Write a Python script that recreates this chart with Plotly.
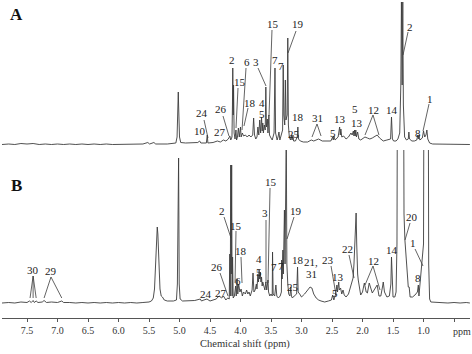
import plotly.graph_objects as go

# ---------------- data (ppm, intensity) ----------------
spec_A = [
    (7.91, 0.5), (7.8, 1), (7.7, 0.5), (7.6, 1.5), (7.5, 1), (7.4, 1.5), (7.3, 0.5), (7.2, 1),
    (7.1, 0.5), (7.0, 1), (6.9, 0.5), (6.8, 1), (6.7, 0.5), (6.6, 1), (6.5, 0.5), (6.4, 1),
    (6.3, 0.5), (6.2, 1), (6.1, 0.5), (6.0, 0.5), (5.9, 1), (5.8, 0.5), (5.7, 1), (5.6, 1),
    (5.52, 2.5), (5.49, 1), (5.42, 2.5), (5.39, 1), (5.2, 1), (5.1, 1.5),
    (5.06, 2), (5.04, 8), (5.025, 40), (5.02, 53), (5.015, 40), (5.0, 8), (4.98, 2.5),
    (4.9, 2), (4.8, 2), (4.7, 2.5), (4.67, 4), (4.65, 2), (4.56, 2), (4.545, 10), (4.535, 2),
    (4.45, 2.5), (4.38, 4), (4.33, 3), (4.28, 5), (4.24, 4), (4.2, 6), (4.175, 9), (4.16, 5),
    (4.14, 8), (4.132, 40), (4.127, 77), (4.12, 30), (4.114, 60), (4.105, 12),
    (4.09, 6), (4.075, 15), (4.065, 5), (4.05, 8), (4.035, 17), (4.02, 8), (4.0, 18), (3.99, 8),
    (3.97, 12), (3.95, 9), (3.92, 10), (3.89, 8), (3.86, 10), (3.83, 8),
    (3.80, 10), (3.785, 27), (3.77, 10), (3.75, 6), (3.73, 8), (3.715, 18), (3.70, 10),
    (3.685, 25), (3.67, 12), (3.655, 28), (3.645, 14), (3.635, 22), (3.625, 12), (3.61, 20),
    (3.595, 15), (3.585, 58), (3.575, 18), (3.56, 26), (3.55, 12), (3.535, 30), (3.525, 10),
    (3.50, 7), (3.48, 5), (3.45, 12), (3.435, 77), (3.425, 12), (3.40, 5), (3.385, 8),
    (3.37, 13), (3.355, 5), (3.33, 10), (3.31, 15), (3.30, 80), (3.29, 30), (3.275, 20),
    (3.265, 65), (3.255, 25), (3.235, 30), (3.225, 107), (3.215, 20), (3.20, 8), (3.18, 5),
    (3.165, 10), (3.155, 5), (3.14, 10), (3.13, 4), (3.10, 4), (3.07, 8), (3.06, 18), (3.05, 6),
    (3.02, 4), (2.97, 3), (2.90, 3), (2.84, 5), (2.80, 4), (2.72, 6), (2.66, 4), (2.60, 4),
    (2.52, 4), (2.49, 8), (2.48, 5), (2.47, 9), (2.45, 5), (2.40, 8), (2.375, 18), (2.365, 10),
    (2.355, 16), (2.34, 8), (2.31, 9), (2.27, 6), (2.23, 8), (2.19, 12), (2.17, 10), (2.15, 14),
    (2.14, 9), (2.13, 15), (2.12, 9), (2.11, 15), (2.10, 8), (2.08, 13), (2.06, 6), (2.03, 5),
    (1.99, 7), (1.96, 8), (1.92, 7), (1.88, 6), (1.84, 7), (1.79, 9), (1.76, 10), (1.72, 7),
    (1.66, 4), (1.60, 5), (1.54, 6), (1.525, 28), (1.51, 6), (1.49, 4), (1.45, 4), (1.42, 6),
    (1.39, 12), (1.372, 60), (1.362, 143), (1.35, 60), (1.34, 143), (1.33, 40), (1.31, 8),
    (1.28, 5), (1.25, 6), (1.24, 13), (1.23, 6), (1.19, 4), (1.15, 4), (1.11, 5), (1.095, 10),
    (1.085, 6), (1.075, 10), (1.06, 5), (1.02, 7), (1.00, 14), (0.98, 8), (0.96, 10),
    (0.945, 15), (0.93, 6), (0.90, 2), (0.85, 1), (0.7, 1), (0.5, 0.5), (0.3, 1), (0.24, 0.5),
]

spec_B = [
    (7.91, 1), (7.8, 1.5), (7.7, 1), (7.6, 2), (7.5, 1.5), (7.46, 3), (7.43, 1.5), (7.40, 3.5),
    (7.38, 1.5), (7.35, 3), (7.32, 1.5), (7.25, 2), (7.22, 3.5), (7.18, 1.5), (7.1, 2),
    (7.0, 1.5), (6.93, 3), (6.9, 1.5), (6.8, 1.5), (6.7, 1), (6.6, 1.5), (6.5, 1), (6.4, 1.5),
    (6.3, 1), (6.2, 1.5), (6.1, 1), (6.0, 1.5), (5.9, 1), (5.8, 1.5), (5.7, 1), (5.6, 1.5),
    (5.5, 2), (5.46, 3), (5.43, 6), (5.41, 15), (5.39, 45), (5.375, 72), (5.365, 77),
    (5.355, 70), (5.34, 40), (5.32, 15), (5.30, 8), (5.28, 7), (5.25, 4), (5.2, 3), (5.1, 3),
    (5.05, 4), (5.035, 20), (5.025, 146), (5.015, 146), (5.005, 20), (4.99, 5), (4.95, 3),
    (4.85, 3), (4.75, 3.5), (4.66, 5), (4.64, 3), (4.6, 4), (4.55, 5), (4.5, 3), (4.4, 5),
    (4.35, 8), (4.31, 6), (4.28, 8), (4.24, 4), (4.21, 6),
    (4.185, 5), (4.175, 50), (4.168, 8), (4.16, 139), (4.152, 30), (4.145, 139), (4.138, 8),
    (4.13, 47), (4.12, 6),
    (4.10, 8), (4.08, 18), (4.07, 8), (4.055, 25), (4.045, 10), (4.03, 20), (4.01, 12),
    (3.99, 15), (3.97, 8), (3.95, 12), (3.92, 10), (3.90, 14), (3.88, 10), (3.86, 12),
    (3.84, 8), (3.81, 14), (3.795, 31), (3.78, 12), (3.76, 14), (3.74, 20), (3.73, 15),
    (3.715, 30), (3.705, 22), (3.695, 34), (3.685, 25), (3.675, 32), (3.665, 22), (3.655, 27),
    (3.645, 18), (3.635, 22), (3.62, 17), (3.60, 14), (3.585, 22), (3.57, 14), (3.55, 24),
    (3.54, 12), (3.52, 8), (3.50, 10), (3.48, 8), (3.475, 52), (3.465, 10), (3.44, 8),
    (3.42, 19), (3.405, 8), (3.38, 6), (3.35, 8), (3.33, 12), (3.325, 44), (3.318, 25),
    (3.305, 54), (3.298, 30), (3.28, 94), (3.27, 40), (3.25, 170), (3.24, 40), (3.225, 20),
    (3.21, 10), (3.19, 8), (3.175, 17), (3.165, 8), (3.15, 6), (3.12, 8), (3.08, 10),
    (3.065, 37), (3.055, 12), (3.03, 10), (3.0, 7), (2.95, 10), (2.90, 14), (2.86, 17),
    (2.83, 16), (2.80, 10), (2.76, 6), (2.72, 4), (2.68, 3), (2.62, 2), (2.56, 3), (2.51, 4),
    (2.49, 9), (2.47, 4), (2.44, 10), (2.42, 19), (2.41, 12), (2.39, 22), (2.38, 14),
    (2.36, 16), (2.34, 10), (2.32, 14), (2.30, 9), (2.27, 7), (2.23, 10), (2.20, 16),
    (2.17, 24), (2.155, 26), (2.14, 40), (2.13, 51), (2.115, 70), (2.105, 91), (2.095, 60),
    (2.09, 40), (2.08, 30), (2.07, 24), (2.05, 15), (2.03, 9), (2.0, 12), (1.97, 21),
    (1.94, 12), (1.92, 11), (1.89, 21), (1.86, 14), (1.84, 11), (1.80, 15), (1.76, 19),
    (1.73, 8), (1.70, 8), (1.67, 18), (1.66, 22), (1.64, 12), (1.60, 7), (1.56, 8),
    (1.535, 20), (1.525, 47), (1.515, 20), (1.50, 7), (1.47, 7), (1.45, 12), (1.435, 60),
    (1.425, 300), (1.33, 300), (1.32, 90), (1.305, 64), (1.29, 50), (1.27, 30), (1.25, 17),
    (1.235, 17), (1.22, 7), (1.18, 7), (1.14, 9), (1.10, 12), (1.085, 19), (1.075, 8),
    (1.06, 18), (1.05, 24), (1.04, 26), (1.025, 37), (1.0, 60), (0.99, 300), (0.925, 300),
    (0.915, 40), (0.90, 5), (0.88, 2), (0.8, 1.5), (0.7, 1.5), (0.6, 1), (0.5, 1.5),
    (0.4, 1), (0.3, 1.5), (0.24, 1),
]

ppm_A = [p for p, _ in spec_A]
int_A = [v for _, v in spec_A]
ppm_B = [p for p, _ in spec_B]
int_B = [v for _, v in spec_B]

tick_vals = [7.5, 7.0, 6.5, 6.0, 5.5, 5.0, 4.5, 4.0, 3.5, 3.0, 2.5, 2.0, 1.5, 1.0, 0.5]
tick_text = ["7.5", "7.0", "6.5", "6.0", "5.5", "5.0", "4.5", "4.0", "3.5", "3.0",
             "2.5", "2.0", "1.5", "1.0", ""]
unit_label = "ppm"
axis_title = "Chemical shift (ppm)"

# peak labels: (text, ppm, intensity)
labels_A = [
    ("24", 4.631, 32), ("10", 4.664, 14), ("26", 4.320, 36), ("27", 4.336, 13),
    ("2", 4.139, 85), ("15", 4.008, 63), ("6", 3.893, 83), ("18", 3.844, 42),
    ("3", 3.746, 83), ("4", 3.648, 42), ("5", 3.648, 31), ("15", 3.467, 121),
    ("7", 3.434, 85), ("7", 3.336, 79), ("19", 3.057, 121), ("25", 3.123, 11),
    ("18", 3.057, 28), ("31", 2.746, 27), ("5", 2.484, 12), ("13", 2.369, 26),
    ("5", 2.123, 36), ("13", 2.090, 22), ("12", 1.828, 35), ("14", 1.516, 35),
    ("2", 1.221, 118), ("8", 1.090, 12), ("1", 0.893, 46),
]
labels_B = [
    ("30", 7.40, 34), ("29", 7.107, 33), ("24", 4.566, 10), ("27", 4.320, 11),
    ("26", 4.385, 37), ("2", 4.303, 93), ("15", 4.074, 78), ("18", 3.992, 53),
    ("6", 4.041, 23), ("4", 3.697, 45), ("5", 3.697, 32), ("3", 3.598, 91),
    ("15", 3.50, 122), ("7", 3.451, 37), ("7", 3.336, 38), ("19", 3.090, 93),
    ("25", 3.139, 17), ("18", 3.057, 44), ("21,", 2.844, 42), ("31", 2.844, 30),
    ("23", 2.566, 44), ("5", 2.451, 11), ("13", 2.402, 27), ("22", 2.254, 55),
    ("12", 1.828, 43), ("14", 1.516, 54), ("20", 1.189, 87), ("1", 1.172, 61),
    ("8", 1.090, 26),
]
# leader lines: (ppm0, int0, ppm1, int1)
leaders_A = [
    (4.598, 25, 4.533, 7), (4.287, 29, 4.189, 9), (4.041, 57, 4.074, 17),
    (3.910, 77, 3.975, 15), (3.877, 37, 3.943, 19), (3.713, 77, 3.582, 59),
    (3.484, 115, 3.533, 29), (3.090, 114, 3.221, 92),
    (2.746, 21, 2.828, 8), (2.746, 21, 2.680, 9),
    (1.828, 30, 1.959, 10), (1.828, 30, 1.730, 10),
    (1.254, 113, 1.336, 90), (0.910, 41, 1.008, 14),
]
leaders_B = [
    (7.40, 28, 7.45, 6), (7.40, 28, 7.40, 6), (7.40, 28, 7.35, 6),
    (7.107, 27, 7.22, 6), (7.107, 27, 6.93, 6),
    (4.336, 31, 4.205, 8), (4.270, 87, 4.156, 66), (4.074, 73, 4.090, 21),
    (3.992, 47, 3.975, 21), (3.582, 84, 3.582, 21), (3.516, 116, 3.549, 21),
    (3.123, 87, 3.238, 65), (2.516, 38, 2.434, 9), (2.221, 49, 2.139, 26),
    (1.828, 38, 1.959, 19), (1.828, 38, 1.713, 14),
    (1.221, 81, 1.303, 64), (1.139, 55, 1.008, 38),
]

# ---------------- figure ----------------
LINE = "#3c3c3c"
FONT = "Liberation Serif"
split = 168 / 318.0

fig = go.Figure()
fig.add_trace(go.Scatter(x=ppm_B, y=int_B, mode="lines", xaxis="x", yaxis="y",
                         line=dict(color=LINE, width=0.9), hoverinfo="skip", showlegend=False))
fig.add_trace(go.Scatter(x=ppm_A, y=int_A, mode="lines", xaxis="x", yaxis="y2",
                         line=dict(color=LINE, width=0.9), hoverinfo="skip", showlegend=False))

annotations = []
for t, x, y in labels_A:
    annotations.append(dict(text=t, x=x, y=y, xref="x", yref="y2", showarrow=False,
                            xanchor="center", yanchor="middle",
                            font=dict(family=FONT, size=11, color="#222")))
for t, x, y in labels_B:
    annotations.append(dict(text=t, x=x, y=y, xref="x", yref="y", showarrow=False,
                            xanchor="center", yanchor="middle",
                            font=dict(family=FONT, size=11, color="#222")))
for t, yp in (("A", 15), ("B", 185)):
    annotations.append(dict(text="<b>%s</b>" % t, x=(16 - 2) / 468.0, y=1 - yp / 318.0,
                            xref="paper", yref="paper", xanchor="center", yanchor="middle",
                            showarrow=False, font=dict(family=FONT, size=17, color="#111")))
# unit label just right of the last tick
annotations.append(dict(text=unit_label, x=0.37, y=-13 / 318.0, xref="x", yref="paper",
                        xanchor="center", yanchor="middle", showarrow=False,
                        font=dict(family=FONT, size=10, color="#333")))
# axis title
annotations.append(dict(text=axis_title, x=(245 - 2) / 468.0, y=-26 / 318.0,
                        xref="paper", yref="paper", xanchor="center", yanchor="middle",
                        showarrow=False, font=dict(family=FONT, size=10.5, color="#333")))

shapes = []
for x0, y0, x1, y1 in leaders_A:
    shapes.append(dict(type="line", x0=x0, y0=y0, x1=x1, y1=y1, xref="x", yref="y2",
                       line=dict(color=LINE, width=0.8)))
for x0, y0, x1, y1 in leaders_B:
    shapes.append(dict(type="line", x0=x0, y0=y0, x1=x1, y1=y1, xref="x", yref="y",
                       line=dict(color=LINE, width=0.8)))

fig.update_layout(
    width=472, height=354,
    margin=dict(l=2, r=2, t=0, b=36),
    paper_bgcolor="white", plot_bgcolor="white",
    font=dict(family=FONT, size=10, color="#333"),
    xaxis=dict(range=[7.91, 0.238], tickvals=tick_vals, ticktext=tick_text,
               showgrid=False, zeroline=False, showline=True, linecolor="#555", linewidth=1,
               ticks="outside", ticklen=3, tickcolor="#555",
               tickfont=dict(family=FONT, size=10, color="#333")),
    yaxis=dict(domain=[0, split], range=[-14, 154], visible=False),
    yaxis2=dict(domain=[split, 1], range=[-5, 145], visible=False, anchor="x"),
    annotations=annotations,
    shapes=shapes,
)

fig.write_html("out.html", config={"displayModeBar": False},
               post_script="document.body.style.margin='0px';")
